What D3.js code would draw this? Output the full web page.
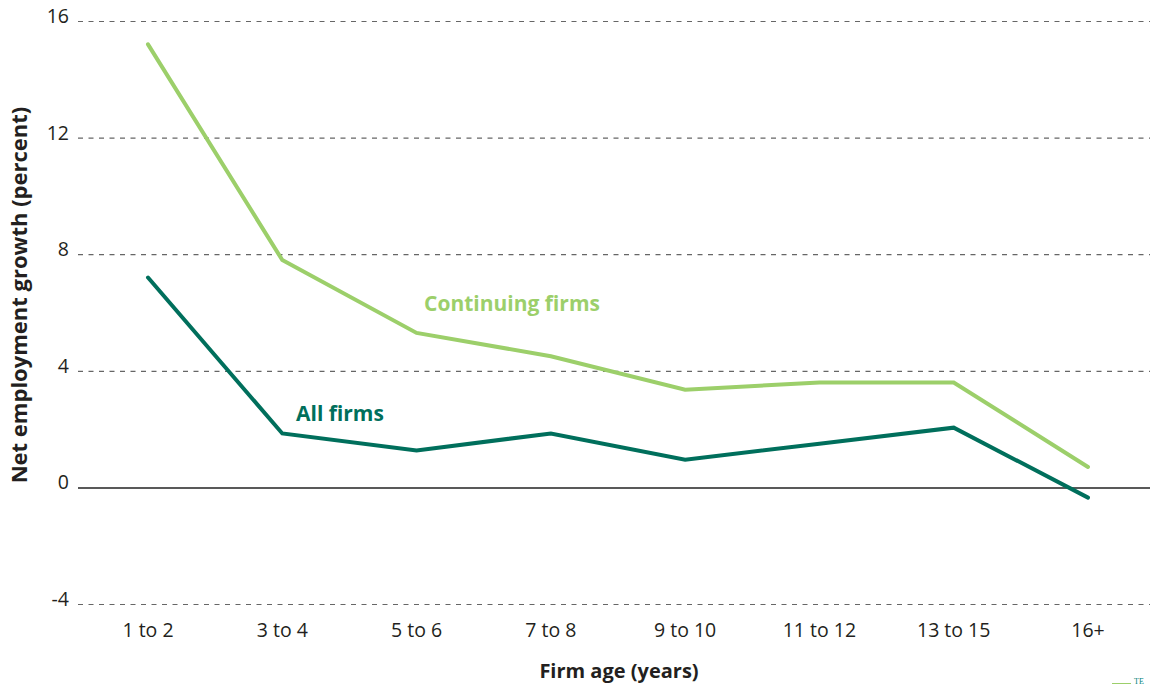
<!DOCTYPE html>
<html>
<head>
<meta charset="utf-8">
<script src="https://cdn.jsdelivr.net/npm/d3@7"></script>
<style>
  body { margin: 0; background: #fff; }
  svg { display: block; font-family: "Open Sans", "Noto Sans", sans-serif; }
</style>
</head>
<body>
<div id="chart"></div>
<script>
// categories + values
const ageGroups = ["1 to 2", "3 to 4", "5 to 6", "7 to 8", "9 to 10", "11 to 12", "13 to 15", "16+"]
const continuingFirms = [15.2, 7.8, 5.3, 4.5, 3.35, 3.6, 3.6, 0.7]
const allFirms = [7.2, 1.85, 1.27, 1.85, 0.95, 1.5, 2.05, -0.35]
const yTicks = [-4, 0, 4, 8, 12, 16]

const width = 1150, height = 685
const LIGHT = "#9ccf6a", DARK = "#006f5c"

const svg = d3.select("#chart").append("svg")
    .attr("width", width)
    .attr("height", height)

// scales
const x = d3.scalePoint()
    .domain(ageGroups)
    .range([148, 1088])

const y = d3.scaleLinear()
    .domain([-4, 16])
    .range([604, 21])

const gridLeft = 78, gridRight = 1150

// gridlines (dashed, zero is solid)
svg.append("g")
    .selectAll("line")
    .data(yTicks)
    .enter().append("line")
    .attr("x1", gridLeft)
    .attr("x2", gridRight)
    .attr("y1", d => y(d) + 0.5)
    .attr("y2", d => y(d) + 0.5)
    .attr("stroke", d => d === 0 ? "#222" : "#666")
    .attr("stroke-width", d => d === 0 ? 1.5 : 1.2)
    .attr("stroke-dasharray", d => d === 0 ? null : "5,5.5")

// y tick labels
svg.append("g")
    .selectAll("text")
    .data(yTicks)
    .enter().append("text")
    .attr("x", 69)
    .attr("y", d => y(d) + 2)
    .attr("text-anchor", "end")
    .attr("font-size", 19.5)
    .attr("fill", "#231f20")
    .text(d => d)

// x tick labels
svg.append("g")
    .selectAll("text")
    .data(ageGroups)
    .enter().append("text")
    .attr("x", d => x(d))
    .attr("y", 637)
    .attr("text-anchor", "middle")
    .attr("font-size", 19.5)
    .attr("fill", "#231f20")
    .text(d => d)

// axis titles
svg.append("text")
    .attr("x", 619)
    .attr("y", 678)
    .attr("text-anchor", "middle")
    .attr("font-size", 20)
    .attr("font-weight", "bold")
    .attr("fill", "#231f20")
    .text("Firm age (years)")

svg.append("text")
    .attr("transform", "translate(27,295) rotate(-90)")
    .attr("text-anchor", "middle")
    .attr("font-size", 22)
    .attr("font-weight", "bold")
    .attr("fill", "#231f20")
    .text("Net employment growth (percent)")

// lines
const line = d3.line()
    .x(d => x(d[0]))
    .y(d => y(d[1]))

const series = [
    { name: "Continuing firms", values: continuingFirms, color: LIGHT, lx: 424, ly: 311 },
    { name: "All firms", values: allFirms, color: DARK, lx: 296, ly: 421 }
]

svg.append("g")
    .attr("fill", "none")
    .attr("stroke-width", 4)
    .attr("stroke-linejoin", "miter")
    .attr("stroke-linecap", "round")
    .selectAll("path")
    .data(series)
    .enter().append("path")
    .attr("stroke", d => d.color)
    .attr("d", d => line(ageGroups.map((k, i) => [k, d.values[i]])))

// direct labels
svg.append("g")
    .selectAll("text")
    .data(series)
    .enter().append("text")
    .attr("x", d => d.lx)
    .attr("y", d => d.ly)
    .attr("font-size", 21)
    .attr("font-weight", "bold")
    .attr("fill", d => d.color)
    .text(d => d.name)

// logo fragment at bottom right
svg.append("line")
    .attr("x1", 1112).attr("x2", 1131)
    .attr("y1", 683.5).attr("y2", 683.5)
    .attr("stroke", LIGHT).attr("stroke-width", 1)
svg.append("text")
    .attr("x", 1134).attr("y", 684)
    .attr("font-family", "Liberation Serif, serif")
    .attr("font-size", 8)
    .attr("fill", "#00847a")
    .text("TE")
</script>
</body>
</html>
